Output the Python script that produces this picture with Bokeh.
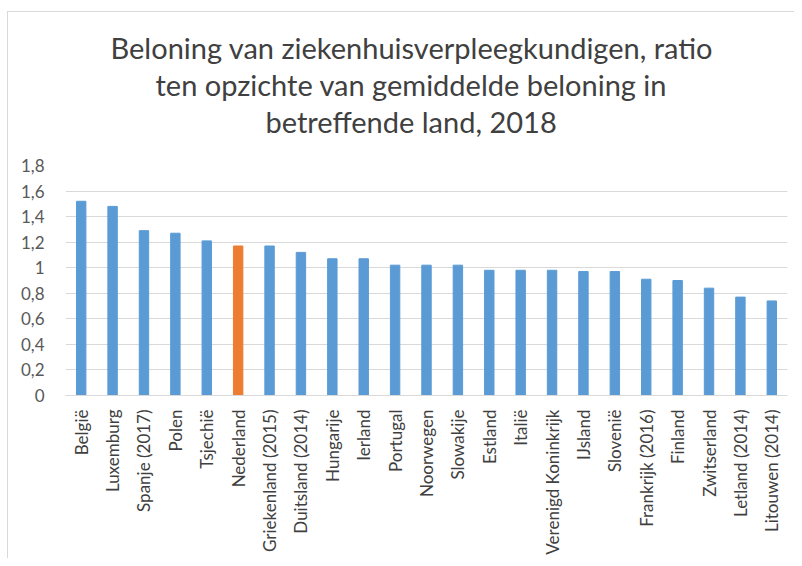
from bokeh.plotting import figure
from bokeh.models import ColumnDataSource, FixedTicker, Title, Range1d
from bokeh.embed import file_html
from bokeh.resources import INLINE
import math

landen = ["België", "Luxemburg", "Spanje (2017)", "Polen", "Tsjechië", "Nederland",
          "Griekenland (2015)", "Duitsland (2014)", "Hungarije", "Ierland", "Portugal",
          "Noorwegen", "Slowakije", "Estland", "Italië", "Verenigd Koninkrijk", "IJsland",
          "Slovenië", "Frankrijk (2016)", "Finland", "Zwitserland", "Letland (2014)",
          "Litouwen (2014)"]
ratio = [1.52, 1.48, 1.29, 1.27, 1.21, 1.17, 1.17, 1.12, 1.07, 1.07, 1.02,
         1.02, 1.02, 0.98, 0.98, 0.98, 0.97, 0.97, 0.91, 0.90, 0.84, 0.77, 0.74]
y_ticks = [0, 0.2, 0.4, 0.6, 0.8, 1.0, 1.2, 1.4, 1.6, 1.8]
y_tick_labels = ["0", "0,2", "0,4", "0,6", "0,8", "1", "1,2", "1,4", "1,6", "1,8"]
titel = ["Beloning van ziekenhuisverpleegkundigen, ratio",
         "ten opzichte van gemiddelde beloning in",
         "betreffende land, 2018"]

kleuren = ["#ED7D31" if l == "Nederland" else "#5B9BD5" for l in landen]
src = ColumnDataSource(dict(land=landen, ratio=ratio, kleur=kleuren))

p = figure(x_range=landen, y_range=Range1d(0, 1.8), width=787, height=547,
           output_backend="svg", toolbar_location=None,
           min_border_left=57, min_border_right=8, min_border_top=153, min_border_bottom=164)
p.margin = (11, 0, 0, 7)
p.styles = {"border-left": "1px solid #D9D9D9", "border-top": "1px solid #D9D9D9"}

p.vbar(x="land", top="ratio", width=0.3, color="kleur", source=src)

p.x_range.range_padding = 0
p.outline_line_color = None
p.xgrid.grid_line_color = None
p.ygrid.grid_line_color = "#D9D9D9"
p.ygrid.grid_line_width = 1

p.yaxis.ticker = FixedTicker(ticks=y_ticks)
p.yaxis.major_label_overrides = {t: l for t, l in zip(y_ticks, y_tick_labels)}
p.yaxis.axis_line_color = None
p.yaxis.major_tick_line_color = None
p.yaxis.minor_tick_line_color = None
p.yaxis.major_label_text_font = "Lato"
p.yaxis.major_label_text_font_size = "17px"
p.yaxis.major_label_text_color = "#595959"
p.yaxis.major_label_standoff = 15

p.xaxis.axis_line_color = "#D9D9D9"
p.xaxis.major_tick_line_color = None
p.xaxis.minor_tick_line_color = None
p.xaxis.major_label_orientation = math.pi / 2
p.xaxis.major_label_text_font = "Lato"
p.xaxis.major_label_text_font_size = "17px"
p.xaxis.major_label_text_color = "#404040"
p.xaxis.major_label_standoff = 8

# blank spacer line between the title and the plot area
p.add_layout(Title(text=" ", standoff=0, text_font="Lato", text_font_size="21px"), "above")

offsets = [45, 90, 200]
for t, off in reversed(list(zip(titel, offsets))):
    p.add_layout(Title(text=t, align="left", offset=off, standoff=0,
                       text_font="Lato", text_font_size="29px",
                       text_font_style="normal", text_color="#404040"), "above")

open("out.html", "w").write(file_html(p, INLINE))
